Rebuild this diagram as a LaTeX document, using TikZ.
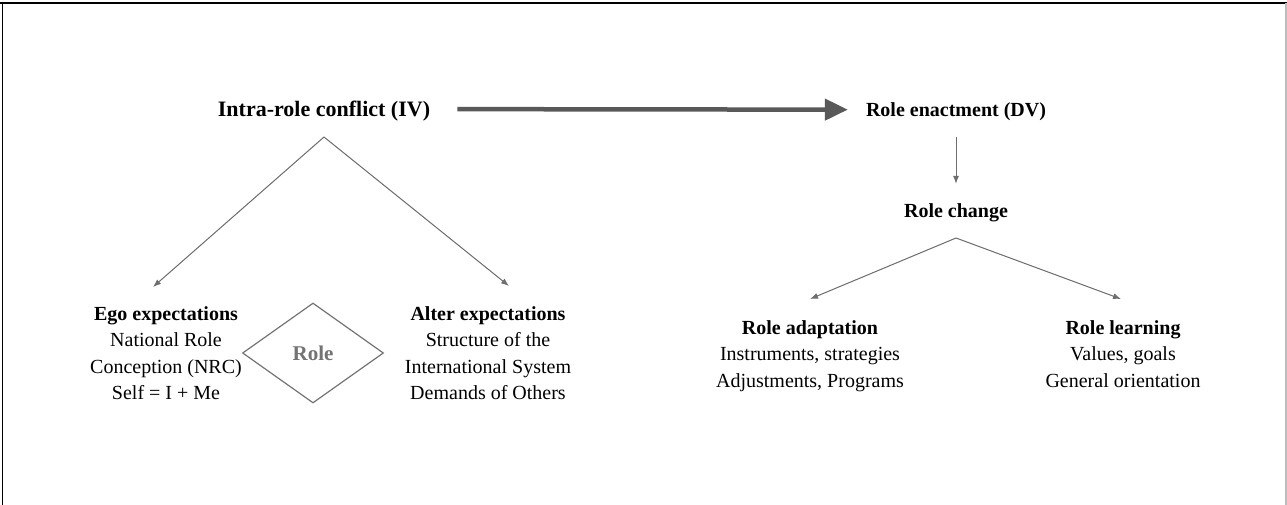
\documentclass[tikz,border=0pt]{standalone}
\usepackage{fontspec}
\setmainfont{Liberation Serif}
\usetikzlibrary{shapes.geometric,arrows.meta,positioning}
\definecolor{linegray}{HTML}{6E6E6E}
\definecolor{thickgray}{HTML}{595959}
\definecolor{rolegray}{HTML}{737373}
\definecolor{edgegray}{HTML}{BDBDBD}

\begin{document}
\begin{tikzpicture}[
    x=1pt, y=-1pt,
    every node/.style={font=\fontsize{20}{26.5}\selectfont, inner sep=0pt},
    head/.style={font=\fontsize{20}{26.5}\selectfont\bfseries, anchor=base},
    bighead/.style={font=\fontsize{22}{26.5}\selectfont\bfseries, anchor=base},
    block/.style={align=center, anchor=north},
    link/.style={-{Latex[length=8pt,width=6pt]}, draw=linegray, fill=linegray, line width=1pt},
    mainarrow/.style={-{Triangle[length=23pt,width=21pt]}, draw=thickgray, fill=thickgray, line width=4.5pt},
    rolebox/.style={diamond, draw=rolegray, line width=1.2pt, minimum width=141pt, minimum height=100pt, text=rolegray, font=\fontsize{21}{24}\selectfont\bfseries}
]
\useasboundingbox (0,0) rectangle (1287,505);

% frame
\draw[line width=2pt] (0,3) -- (1287,3);
\draw[line width=1.6pt] (2.5,3) -- (2.5,505);
\draw[edgegray, line width=1.2pt] (1286,3) -- (1286,505);

% left half
\node[bighead] (conflict) at (324,117) {Intra-role conflict (IV)};
\node[block] (ego) at (166,306) {\textbf{Ego expectations}\\National Role\\Conception (NRC)\\Self = I + Me};
\node[rolebox] (role) at (313,353) {Role};
\node[block] (alter) at (488,306) {\textbf{Alter expectations}\\Structure of the\\International System\\Demands of Others};

% right half
\node[head] (enactment) at (956,117) {Role enactment (DV)};
\node[head] (change) at (956,218) {Role change};
\node[block] (adapt) at (810,320) {\textbf{Role adaptation}\\Instruments, strategies\\Adjustments, Programs};
\node[block] (learn) at (1123,320) {\textbf{Role learning}\\Values, goals\\General orientation};

\coordinate (conflict apex) at (324,137);
\coordinate (ego tip) at (153,287);
\coordinate (alter tip) at (509,286);
\coordinate (change apex) at (956,238);
\coordinate (adapt tip) at (810,299);
\coordinate (learn tip) at (1121,299);

\draw[mainarrow, shorten <=27pt, shorten >=18pt] ([yshift=2.5pt]conflict.east) -- ([yshift=2.5pt]enactment.west);
\draw[link] (conflict apex) -- (ego tip);
\draw[link] (conflict apex) -- (alter tip);
\draw[link, shorten <=16pt, shorten >=20pt] (enactment) -- (change);
\draw[link] (change apex) -- (adapt tip);
\draw[link] (change apex) -- (learn tip);

\end{tikzpicture}
\end{document}
